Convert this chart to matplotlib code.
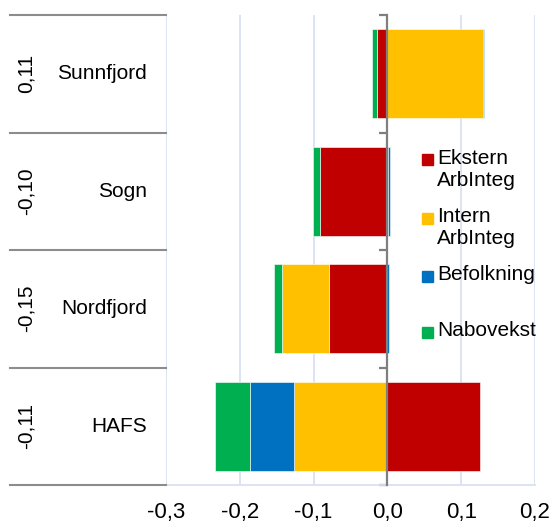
import numpy as np
import matplotlib
matplotlib.use("Agg")
import matplotlib.pyplot as plt
from matplotlib.patches import Rectangle
from matplotlib.ticker import FuncFormatter
import matplotlib.transforms as mtransforms

plt.rcParams['font.family'] = ['Liberation Sans', 'DejaVu Sans']

# Data (top to bottom)
regioner = ['Sunnfjord', 'Sogn', 'Nordfjord', 'HAFS']
totaler = ['0,11', '-0,10', '-0,15', '-0,11']
serier = ['Ekstern\nArbInteg', 'Intern\nArbInteg', 'Befolkning', 'Nabovekst']
ekstern = [-0.0136, -0.0913, -0.0787, 0.125]
intern = [0.130, 0.001, -0.0638, -0.1266]
befolkning = [0.001, 0.002, 0.002, -0.0602]
nabovekst = [-0.0072, -0.009, -0.0109, -0.047]
farger = ['#C00000', '#FFC000', '#0070C0', '#00B050']

W, H = 555, 527
fig = plt.figure(figsize=(W / 100, H / 100), dpi=100)
ax = fig.add_axes([166 / W, 1 - 485 / H, (535 - 166) / W, (485 - 15) / H])

n = len(regioner)
ypos = np.arange(n)[::-1] + 0.5
pos_base = np.zeros(n)
neg_base = np.zeros(n)
for verdier, farge in zip([ekstern, intern, befolkning, nabovekst], farger):
    v = np.array(verdier)
    base = np.where(v >= 0, pos_base, neg_base)
    ax.barh(ypos, v, left=base, height=0.76, color=farge,
            edgecolor='white', linewidth=0.4, zorder=3)
    pos_base = pos_base + np.where(v >= 0, v, 0)
    neg_base = neg_base + np.where(v < 0, v, 0)

ax.set_xlim(-0.3, 0.2)
ax.set_ylim(0, n)
ax.set_xticks(np.arange(-0.3, 0.21, 0.1))
ax.xaxis.set_major_formatter(FuncFormatter(lambda x, p: f'{x:.1f}'.replace('.', ',').replace('-0,0', '0,0')))
ax.tick_params(axis='x', length=0, labelsize=16, pad=12)
ax.grid(axis='x', color='#D9E1F2', linewidth=1.3, zorder=0)

gridc = '#D9E1F2'
ax.spines['top'].set_visible(False)
ax.spines['right'].set_visible(False)
ax.spines['bottom'].set_color(gridc)
ax.spines['bottom'].set_linewidth(1.3)
ax.spines['left'].set_position(('data', 0))
ax.spines['left'].set_color('#7F7F7F')
ax.spines['left'].set_linewidth(1.6)
ax.spines['left'].set_zorder(4)
ax.set_yticks(np.arange(n + 1))
ax.tick_params(axis='y', direction='out', length=6, width=1.6, color='#7F7F7F', labelleft=False)

# category area on the left
trans = mtransforms.blended_transform_factory(fig.transFigure, ax.transData)
for k in range(n + 1):
    ax.plot([10 / W, 166 / W], [k, k], transform=trans, color='#8C8C8C',
            linewidth=1.5, clip_on=False, zorder=5)
for y, navn, tot in zip(ypos, regioner, totaler):
    fig.text(147 / W, 0, navn, fontsize=15, ha='right', va='center',
             transform=trans).set_y(y)
    fig.text(26 / W, 0, tot, fontsize=15, ha='center', va='center',
             rotation=90, transform=trans).set_y(y)

# legend
leg_y = [160, 218, 276, 332]
for yy, navn, farge in zip(leg_y, serier, farger):
    fig.patches.append(Rectangle((422 / W, 1 - (yy + 5.5) / H), 11 / W, 11 / H,
                                 transform=fig.transFigure, color=farge))
    fig.text(437 / W, 1 - (yy - 11) / H, navn, fontsize=15, ha='left', va='top',
             linespacing=1.2)

fig.savefig('out.png', dpi=100)
